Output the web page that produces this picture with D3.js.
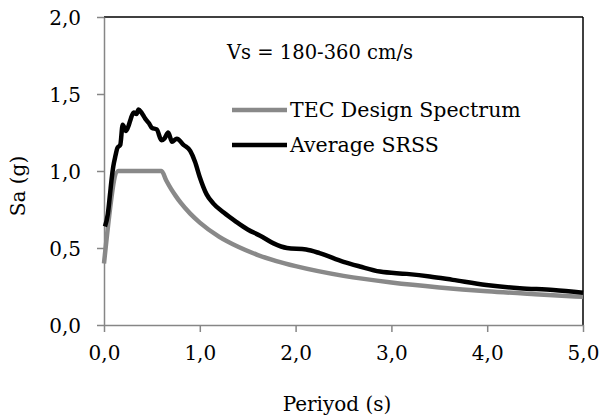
<!DOCTYPE html>
<html>
<head>
<meta charset="utf-8">
<script src="https://cdn.jsdelivr.net/npm/d3@7"></script>
<style>
  body { margin: 0; background: #fff; }
  text { font-family: "DejaVu Serif", "Liberation Serif", serif; fill: #000; }
</style>
</head>
<body>
<div id="drawing_region"></div>
<script>
// TEC design spectrum (period s, Sa g)
const tecT = [0, 0.15, 0.6, 0.65, 0.7, 0.75, 0.8, 0.9, 1.0, 1.2, 1.4, 1.6, 1.8, 2.0, 2.5, 3.0, 3.5, 4.0, 4.5, 5.0];
const tecSa = [0.4, 1.0, 1.0, 0.938, 0.884, 0.837, 0.794, 0.723, 0.665, 0.574, 0.508, 0.456, 0.415, 0.382, 0.319, 0.276, 0.244, 0.219, 0.2, 0.183];

// Average SRSS
const srssT = [0.01, 0.04, 0.063, 0.08, 0.097, 0.12, 0.14, 0.17, 0.195, 0.23, 0.26, 0.28, 0.31, 0.34, 0.36, 0.39, 0.43, 0.47, 0.5, 0.55,
  0.6, 0.63, 0.67, 0.71, 0.76, 0.83, 0.9, 0.95, 1.0, 1.07, 1.14, 1.25, 1.38, 1.5, 1.63, 1.77, 1.91, 2.11, 2.25, 2.5,
  2.67, 2.88, 3.16, 3.4, 3.64, 3.99, 4.34, 4.69, 5.0];
const srssSa = [0.64, 0.72, 0.85, 0.95, 1.03, 1.1, 1.15, 1.17, 1.3, 1.26, 1.3, 1.34, 1.38, 1.37, 1.4, 1.38, 1.34, 1.31, 1.28, 1.27,
  1.2, 1.21, 1.25, 1.19, 1.21, 1.17, 1.13, 1.06, 0.96, 0.85, 0.79, 0.73, 0.67, 0.62, 0.58, 0.53, 0.5, 0.49, 0.467, 0.41,
  0.38, 0.347, 0.332, 0.315, 0.293, 0.26, 0.239, 0.228, 0.21];

const xTicks = [0, 1, 2, 3, 4, 5];
const yTicks = [0, 0.5, 1.0, 1.5, 2.0];
const seriesNames = ["TEC Design Spectrum", "Average SRSS"];

const width = 599, height = 419;
const margin = { top: 17, right: 16, bottom: 94, left: 104 };
const innerW = width - margin.left - margin.right;
const innerH = height - margin.top - margin.bottom;

const axisGray = "#868686";
const tecColor = "#898989";
const fmt = d => d3.format(".1f")(d).replace(".", ",");

const svg = d3.select("#drawing_region")
  .append("svg")
  .attr("width", width)
  .attr("height", height);

const g = svg.append("g").attr("transform", `translate(${margin.left},${margin.top})`);

const x = d3.scaleLinear().domain([0, 5]).range([0, innerW]);
const y = d3.scaleLinear().domain([0, 2]).range([innerH, 0]);

// plot border (top and right in black)
g.append("line").attr("x1", 0).attr("x2", innerW).attr("y1", 0).attr("y2", 0)
  .attr("stroke", "#000").attr("stroke-width", 1.5);
g.append("line").attr("x1", innerW).attr("x2", innerW).attr("y1", 0).attr("y2", innerH)
  .attr("stroke", "#000").attr("stroke-width", 1.5);

// axes
const xAxis = g.append("g").attr("transform", `translate(0,${innerH})`)
  .call(d3.axisBottom(x).tickValues(xTicks).tickFormat(fmt).tickSizeInner(7).tickSizeOuter(0).tickPadding(10));
const yAxis = g.append("g")
  .call(d3.axisLeft(y).tickValues(yTicks).tickFormat(fmt).tickSizeInner(7).tickSizeOuter(0).tickPadding(16));

[xAxis, yAxis].forEach(a => {
  a.select(".domain").attr("stroke", axisGray).attr("stroke-width", 1.5);
  a.selectAll(".tick line").attr("stroke", axisGray).attr("stroke-width", 1.5);
  a.selectAll(".tick text").style("font-size", "20px").style("font-family", "DejaVu Serif").attr("fill", "#000");
});
xAxis.selectAll(".tick text").attr("dy", "0.9em");
yAxis.selectAll(".tick text").attr("dy", "0.35em");

// series
const line = d3.line()
  .x(d => x(d[0]))
  .y(d => y(d[1]))
  .curve(d3.curveMonotoneX);

g.append("path")
  .datum(tecT.map((t, i) => [t, tecSa[i]]))
  .attr("d", line)
  .attr("fill", "none")
  .attr("stroke", tecColor)
  .attr("stroke-width", 4.5)
  .attr("stroke-linejoin", "round");

g.append("path")
  .datum(srssT.map((t, i) => [t, srssSa[i]]))
  .attr("d", line)
  .attr("fill", "none")
  .attr("stroke", "#000")
  .attr("stroke-width", 4.5)
  .attr("stroke-linejoin", "round");

// annotation
svg.append("text")
  .attr("x", 227).attr("y", 59)
  .style("font-size", "19.5px")
  .text("Vs = 180-360 cm/s");

// legend
const legend = svg.append("g").attr("transform", "translate(232,110)");
[tecColor, "#000"].forEach((c, i) => {
  legend.append("line")
    .attr("x1", 0).attr("x2", 55).attr("y1", i * 35).attr("y2", i * 35)
    .attr("stroke", c).attr("stroke-width", 4.5);
  legend.append("text")
    .attr("x", 58).attr("y", i * 35 + 7)
    .style("font-size", "20.5px")
    .text(seriesNames[i]);
});

// axis titles
svg.append("text")
  .attr("x", 337).attr("y", 411)
  .attr("text-anchor", "middle")
  .style("font-size", "20px")
  .text("Periyod (s)");

svg.append("text")
  .attr("transform", "translate(25,186) rotate(-90)")
  .attr("text-anchor", "middle")
  .style("font-size", "20px")
  .text("Sa (g)");
</script>
</body>
</html>
